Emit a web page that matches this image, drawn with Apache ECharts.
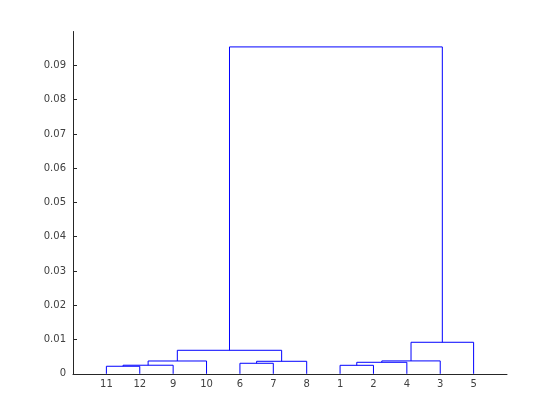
<!DOCTYPE html>
<html>
<head>
<meta charset="utf-8">
<script src="https://cdn.jsdelivr.net/npm/echarts@6/dist/echarts.min.js"></script>
<style>html,body{margin:0;padding:0;background:#fff}#c{width:560px;height:420px}</style>
</head>
<body>
<div id="c"></div>
<script>
// Leaf order along the x axis (leaf labels)
var leafOrder = [11, 12, 9, 10, 6, 7, 8, 1, 2, 4, 3, 5];
// Linkage (MATLAB style): clusters 13.. are created in this order
var mergeLeft   = [11, 1, 13, 6, 14, 16, 15, 17, 19, 20, 21];
var mergeRight  = [12, 2, 9, 7, 4, 8, 10, 3, 18, 5, 22];
var mergeHeight = [0.0022, 0.00248, 0.0025, 0.00307, 0.00336, 0.00365, 0.00374, 0.00376, 0.00686, 0.0092, 0.0954];
// Y tick values / labels
var yTicks = [0, 0.01, 0.02, 0.03, 0.04, 0.05, 0.06, 0.07, 0.08, 0.09];
var yTickLabels = ['0', '0.01', '0.02', '0.03', '0.04', '0.05', '0.06', '0.07', '0.08', '0.09'];

var nLeaves = leafOrder.length;
var pos = {}, hgt = {};
leafOrder.forEach(function (leaf, i) { pos[leaf] = i + 1; hgt[leaf] = 0; });
var links = [];
for (var k = 0; k < mergeLeft.length; k++) {
  var a = mergeLeft[k], b = mergeRight[k], h = mergeHeight[k];
  var id = nLeaves + 1 + k;
  links.push([pos[a], hgt[a], pos[b], hgt[b], h]);
  pos[id] = (pos[a] + pos[b]) / 2;
  hgt[id] = h;
}
var xTicks = leafOrder.map(function (_, i) { return i + 1; });

var chart = echarts.init(document.getElementById('c'), null, { renderer: 'canvas' });
chart.setOption({
  animation: false,
  backgroundColor: '#ffffff',
  grid: { left: 73, right: 53, top: 31.5, bottom: 46.2, containLabel: false },
  xAxis: {
    type: 'value', min: 0, max: nLeaves + 1,
    splitLine: { show: false },
    axisLine: { show: true, onZero: false, lineStyle: { color: '#262626', width: 1 } },
    axisTick: { show: false },
    axisLabel: {
      customValues: xTicks,
      color: '#404040', fontFamily: 'DejaVu Sans', fontSize: 10, margin: 6,
      formatter: function (v) { return String(leafOrder[Math.round(v) - 1]); }
    }
  },
  yAxis: {
    type: 'value', min: 0, max: 0.0999,
    splitLine: { show: false },
    axisLine: { show: true, lineStyle: { color: '#262626', width: 1 } },
    axisTick: { show: true, inside: true, length: 4, customValues: yTicks, lineStyle: { color: '#262626' } },
    axisLabel: {
      customValues: yTicks,
      color: '#404040', fontFamily: 'DejaVu Sans', fontSize: 10, margin: 7,
      formatter: function (v) {
        var i = yTicks.findIndex(function (t) { return Math.abs(t - v) < 1e-9; });
        return i >= 0 ? yTickLabels[i] : '';
      }
    }
  },
  series: [{
    type: 'custom',
    silent: true,
    data: links,
    encode: { x: [0, 2], y: [1, 3, 4] },
    renderItem: function (params, api) {
      var p1 = api.coord([api.value(0), api.value(1)]);
      var p2 = api.coord([api.value(0), api.value(4)]);
      var p3 = api.coord([api.value(2), api.value(4)]);
      var p4 = api.coord([api.value(2), api.value(3)]);
      return {
        type: 'polyline',
        shape: { points: [p1, p2, p3, p4] },
        style: { stroke: '#0000ff', lineWidth: 1, fill: null }
      };
    }
  }]
});
</script>
</body>
</html>
